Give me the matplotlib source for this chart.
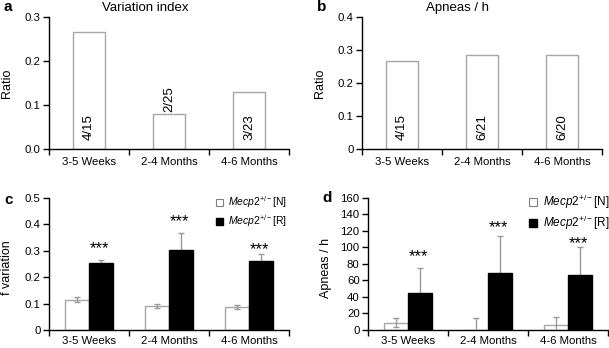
import numpy as np
import matplotlib.pyplot as plt
from matplotlib.patches import Patch

plt.rcParams['font.family'] = ['Liberation Sans', 'DejaVu Sans']
plt.rcParams['mathtext.fontset'] = 'custom'
plt.rcParams['mathtext.rm'] = 'Liberation Sans'
plt.rcParams['mathtext.it'] = 'Liberation Sans:italic'

groups = ['3-5 Weeks', '2-4 Months', '4-6 Months']

# panel a / b: ratios with n/N labels
var_ratio = [0.267, 0.08, 0.13]
var_labels = ['4/15', '2/25', '3/23']
var_label_above = [False, True, False]
apn_ratio = [0.267, 0.286, 0.286]
apn_labels = ['4/15', '6/21', '6/20']

# panel c: f variation
fvar_n = [0.115, 0.091, 0.087]
fvar_n_err = [0.010, 0.008, 0.008]
fvar_r = [0.252, 0.302, 0.262]
fvar_r_err = [0.013, 0.065, 0.027]
fvar_stars = [0.290, 0.392, 0.288]

# panel d: apneas / h
apn_n = [9, 0, 6]
apn_n_err = [5, 15, 10]
apn_r = [45, 69, 66]
apn_r_err = [30, 45, 34]
apn_stars = [83, 118, 99]

W, H = 609, 348
fig = plt.figure(figsize=(W / 100, H / 100), dpi=100)
GRAY = '#a6a6a6'


def px_axes(left, top, bottom, width=240):
    return fig.add_axes([left / W, 1 - bottom / H, width / W, (bottom - top) / H])


def style(ax, ymax, step, fmt, xpad=6):
    ax.set_xlim(-0.5, 2.5)
    ax.set_ylim(0, ymax)
    ticks = np.arange(0, ymax + step / 2, step)
    ax.set_yticks(ticks)
    ax.set_yticklabels([fmt(t) for t in ticks])
    ax.set_xticks(range(3))
    ax.set_xticklabels(groups)
    ax.set_xticks([-0.5, 0.5, 1.5, 2.5], minor=True)
    ax.tick_params(axis='x', which='major', length=0, labelsize=8.2, pad=xpad)
    ax.tick_params(axis='x', which='minor', length=4, width=1, direction='out')
    ax.tick_params(axis='y', length=4, width=1, labelsize=8.2, pad=2)
    for s in ['top', 'right']:
        ax.spines[s].set_visible(False)
    for s in ['left', 'bottom']:
        ax.spines[s].set_linewidth(1)


def ratio_panel(ax, vals, labels, above):
    x = np.arange(3)
    ax.bar(x, vals, width=0.41, color='white', edgecolor=GRAY, linewidth=1)
    for i, (v, lab) in enumerate(zip(vals, labels)):
        if above[i]:
            ax.annotate(lab, (i, v), xytext=(0, 1.5), textcoords='offset points',
                        rotation=90, ha='center', va='bottom', fontsize=9.5)
        else:
            ax.annotate(lab, (i, 0), xytext=(0, 6.5), textcoords='offset points',
                        rotation=90, ha='center', va='bottom', fontsize=9.5)


def group_panel(ax, n, n_err, r, r_err, stars):
    x = np.arange(3)
    w = 0.295
    ax.bar(x - w / 2, n, width=w, color='white', edgecolor=GRAY, linewidth=1, zorder=2)
    ax.errorbar(x - w / 2, n, yerr=n_err, fmt='none', ecolor='#999999',
                elinewidth=1, capsize=2, capthick=1, zorder=3)
    ax.errorbar(x + w / 2, r, yerr=r_err, fmt='none', ecolor='#999999',
                elinewidth=1, capsize=2, capthick=1, zorder=3)
    ax.bar(x + w / 2, r, width=w, color='black', edgecolor='black', linewidth=1, zorder=4)
    for i, s in enumerate(stars):
        ax.text(i + w / 2 - 0.02, s, '***', ha='center', va='baseline', fontsize=12)


def legend(ax, x0, y0, fs, spacing):
    handles = [Patch(facecolor='white', edgecolor='#808080', linewidth=0.8),
               Patch(facecolor='black', edgecolor='black')]
    labels = [r'$\mathit{Mecp2}^{+/-}$[N]', r'$\mathit{Mecp2}^{+/-}$[R]']
    ax.legend(handles, labels, loc='upper left', bbox_to_anchor=(x0 / W, 1 - y0 / H),
              bbox_transform=fig.transFigure, frameon=False, fontsize=fs,
              handlelength=0.7, handleheight=0.7, handletextpad=0.5,
              labelspacing=spacing, borderpad=0, borderaxespad=0)


fmt1 = lambda t: f'{t:.1f}'
fmt0 = lambda t: '0' if t == 0 else f'{t:.1f}'

# a
ax_a = px_axes(49, 17, 149)
ratio_panel(ax_a, var_ratio, var_labels, var_label_above)
style(ax_a, 0.3, 0.1, fmt1)
ax_a.set_ylabel('Ratio', fontsize=9)
ax_a.yaxis.set_label_coords(-0.15, 0.5)

# b
ax_b = px_axes(362, 17, 149)
ratio_panel(ax_b, apn_ratio, apn_labels, [False] * 3)
style(ax_b, 0.4, 0.1, fmt0)
ax_b.set_ylabel('Ratio', fontsize=9)
ax_b.yaxis.set_label_coords(-0.15, 0.5)

# c
ax_c = px_axes(49, 197.7, 330)
group_panel(ax_c, fvar_n, fvar_n_err, fvar_r, fvar_r_err, fvar_stars)
style(ax_c, 0.5, 0.1, fmt0, xpad=4.5)
ax_c.set_ylabel('f variation', fontsize=9)
ax_c.yaxis.set_label_coords(-0.15, 0.47)
legend(ax_c, 216, 194, 7.5, 0.35)

# d
ax_d = px_axes(368, 197.7, 330)
group_panel(ax_d, apn_n, apn_n_err, apn_r, apn_r_err, apn_stars)
style(ax_d, 160, 20, lambda t: f'{t:.0f}', xpad=4.5)
ax_d.set_ylabel('Apneas / h', fontsize=9)
ax_d.yaxis.set_label_coords(-0.15, 0.47)
legend(ax_d, 529, 193, 8.5, 0.25)

# titles and panel letters
fig.text(145 / W, 1 - 8 / H, 'Variation index', ha='center', va='center', fontsize=9.5)
fig.text(458 / W, 1 - 8 / H, 'Apneas / h', ha='center', va='center', fontsize=9.5)
for lx, ly, lab in [(3, 7, 'a'), (317, 7, 'b'), (4, 200, 'c'), (322, 198, 'd')]:
    fig.text(lx / W, 1 - ly / H, lab, ha='left', va='center', fontsize=11, fontweight='bold')

fig.savefig('out.png', dpi=100)
